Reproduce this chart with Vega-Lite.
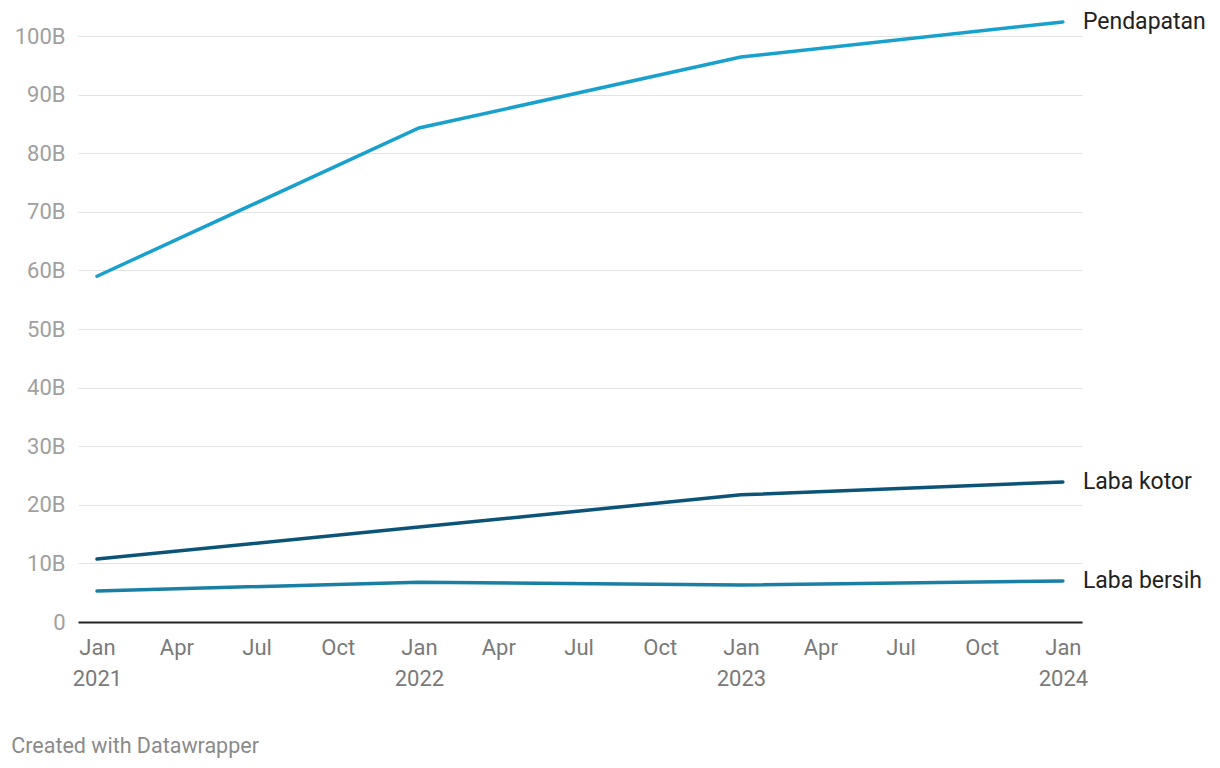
{
  "$schema": "https://vega.github.io/schema/vega-lite/v6.json",
  "width": 1004,
  "height": 586,
  "autosize": "none",
  "padding": {"left": 78, "top": 36, "right": 138, "bottom": 146},
  "background": "white",
  "config": {
    "font": "Roboto",
    "view": {"stroke": null}
  },
  "title": {
    "text": "Created with Datawrapper",
    "orient": "bottom",
    "anchor": "start",
    "frame": "bounds",
    "fontSize": 21.5,
    "fontWeight": "normal",
    "color": "#8a8a8a",
    "offset": 47,
    "dx": -3,
    "font": "Roboto"
  },
  "data": {
    "values": [
      {"date": "2021-01-01", "series": "Pendapatan", "value": 59.0},
      {"date": "2022-01-01", "series": "Pendapatan", "value": 84.3},
      {"date": "2023-01-01", "series": "Pendapatan", "value": 96.4},
      {"date": "2024-01-01", "series": "Pendapatan", "value": 102.4},
      {"date": "2021-01-01", "series": "Laba kotor", "value": 10.75},
      {"date": "2022-01-01", "series": "Laba kotor", "value": 16.2},
      {"date": "2023-01-01", "series": "Laba kotor", "value": 21.7},
      {"date": "2024-01-01", "series": "Laba kotor", "value": 23.9},
      {"date": "2021-01-01", "series": "Laba bersih", "value": 5.3},
      {"date": "2022-01-01", "series": "Laba bersih", "value": 6.8},
      {"date": "2023-01-01", "series": "Laba bersih", "value": 6.3},
      {"date": "2024-01-01", "series": "Laba bersih", "value": 7.0}
    ]
  },
  "encoding": {
    "x": {
      "field": "date",
      "type": "temporal",
      "scale": {
        "type": "utc",
        "domain": [
          {"year": 2020, "month": 12, "date": 10, "hours": 12, "utc": true},
          {"year": 2024, "month": 1, "date": 22, "hours": 16, "utc": true}
        ]
      },
      "axis": {
        "title": null,
        "values": [
          {"year": 2021, "month": 1, "date": 1, "utc": true},
          {"year": 2021, "month": 4, "date": 1, "utc": true},
          {"year": 2021, "month": 7, "date": 1, "utc": true},
          {"year": 2021, "month": 10, "date": 1, "utc": true},
          {"year": 2022, "month": 1, "date": 1, "utc": true},
          {"year": 2022, "month": 4, "date": 1, "utc": true},
          {"year": 2022, "month": 7, "date": 1, "utc": true},
          {"year": 2022, "month": 10, "date": 1, "utc": true},
          {"year": 2023, "month": 1, "date": 1, "utc": true},
          {"year": 2023, "month": 4, "date": 1, "utc": true},
          {"year": 2023, "month": 7, "date": 1, "utc": true},
          {"year": 2023, "month": 10, "date": 1, "utc": true},
          {"year": 2024, "month": 1, "date": 1, "utc": true}
        ],
        "labelExpr": "utcFormat(datum.value, '%m') == '01' ? [utcFormat(datum.value, '%b'), utcFormat(datum.value, '%Y')] : utcFormat(datum.value, '%b')",
        "labelFontSize": 22,
        "labelColor": "#7a7a7a",
        "labelFont": "Roboto",
        "labelLineHeight": 31,
        "labelPadding": 15,
        "labelBaseline": "top",
        "labelAlign": "center",
        "labelOverlap": false,
        "labelFlush": false,
        "ticks": false,
        "grid": false,
        "domain": true,
        "domainColor": "#222222",
        "domainWidth": 2
      }
    },
    "y": {
      "field": "value",
      "type": "quantitative",
      "scale": {"domain": [0, 100], "nice": false},
      "axis": {
        "title": null,
        "values": [0, 10, 20, 30, 40, 50, 60, 70, 80, 90, 100],
        "labelExpr": "datum.value == 0 ? '0' : datum.value + 'B'",
        "labelFontSize": 22,
        "labelColor": "#a0a0a0",
        "labelFont": "Roboto",
        "labelPadding": 13,
        "ticks": false,
        "domain": false,
        "grid": true,
        "gridColor": "#e3e3e3",
        "gridWidth": 1
      }
    },
    "color": {
      "field": "series",
      "type": "nominal",
      "scale": {
        "domain": ["Pendapatan", "Laba kotor", "Laba bersih"],
        "range": ["#18a1cd", "#0b5478", "#1a7fa5"]
      },
      "legend": null
    }
  },
  "layer": [
    {
      "mark": {"type": "line", "strokeWidth": 3.5, "strokeCap": "round", "clip": false}
    },
    {
      "transform": [{"filter": "utcyear(datum.date) == 2024"}],
      "mark": {"type": "text", "align": "left", "baseline": "middle", "dx": 20, "fontSize": 23, "font": "Roboto", "color": "#222222"},
      "encoding": {
        "text": {"field": "series"},
        "color": {"value": "#222222"}
      }
    }
  ]
}
